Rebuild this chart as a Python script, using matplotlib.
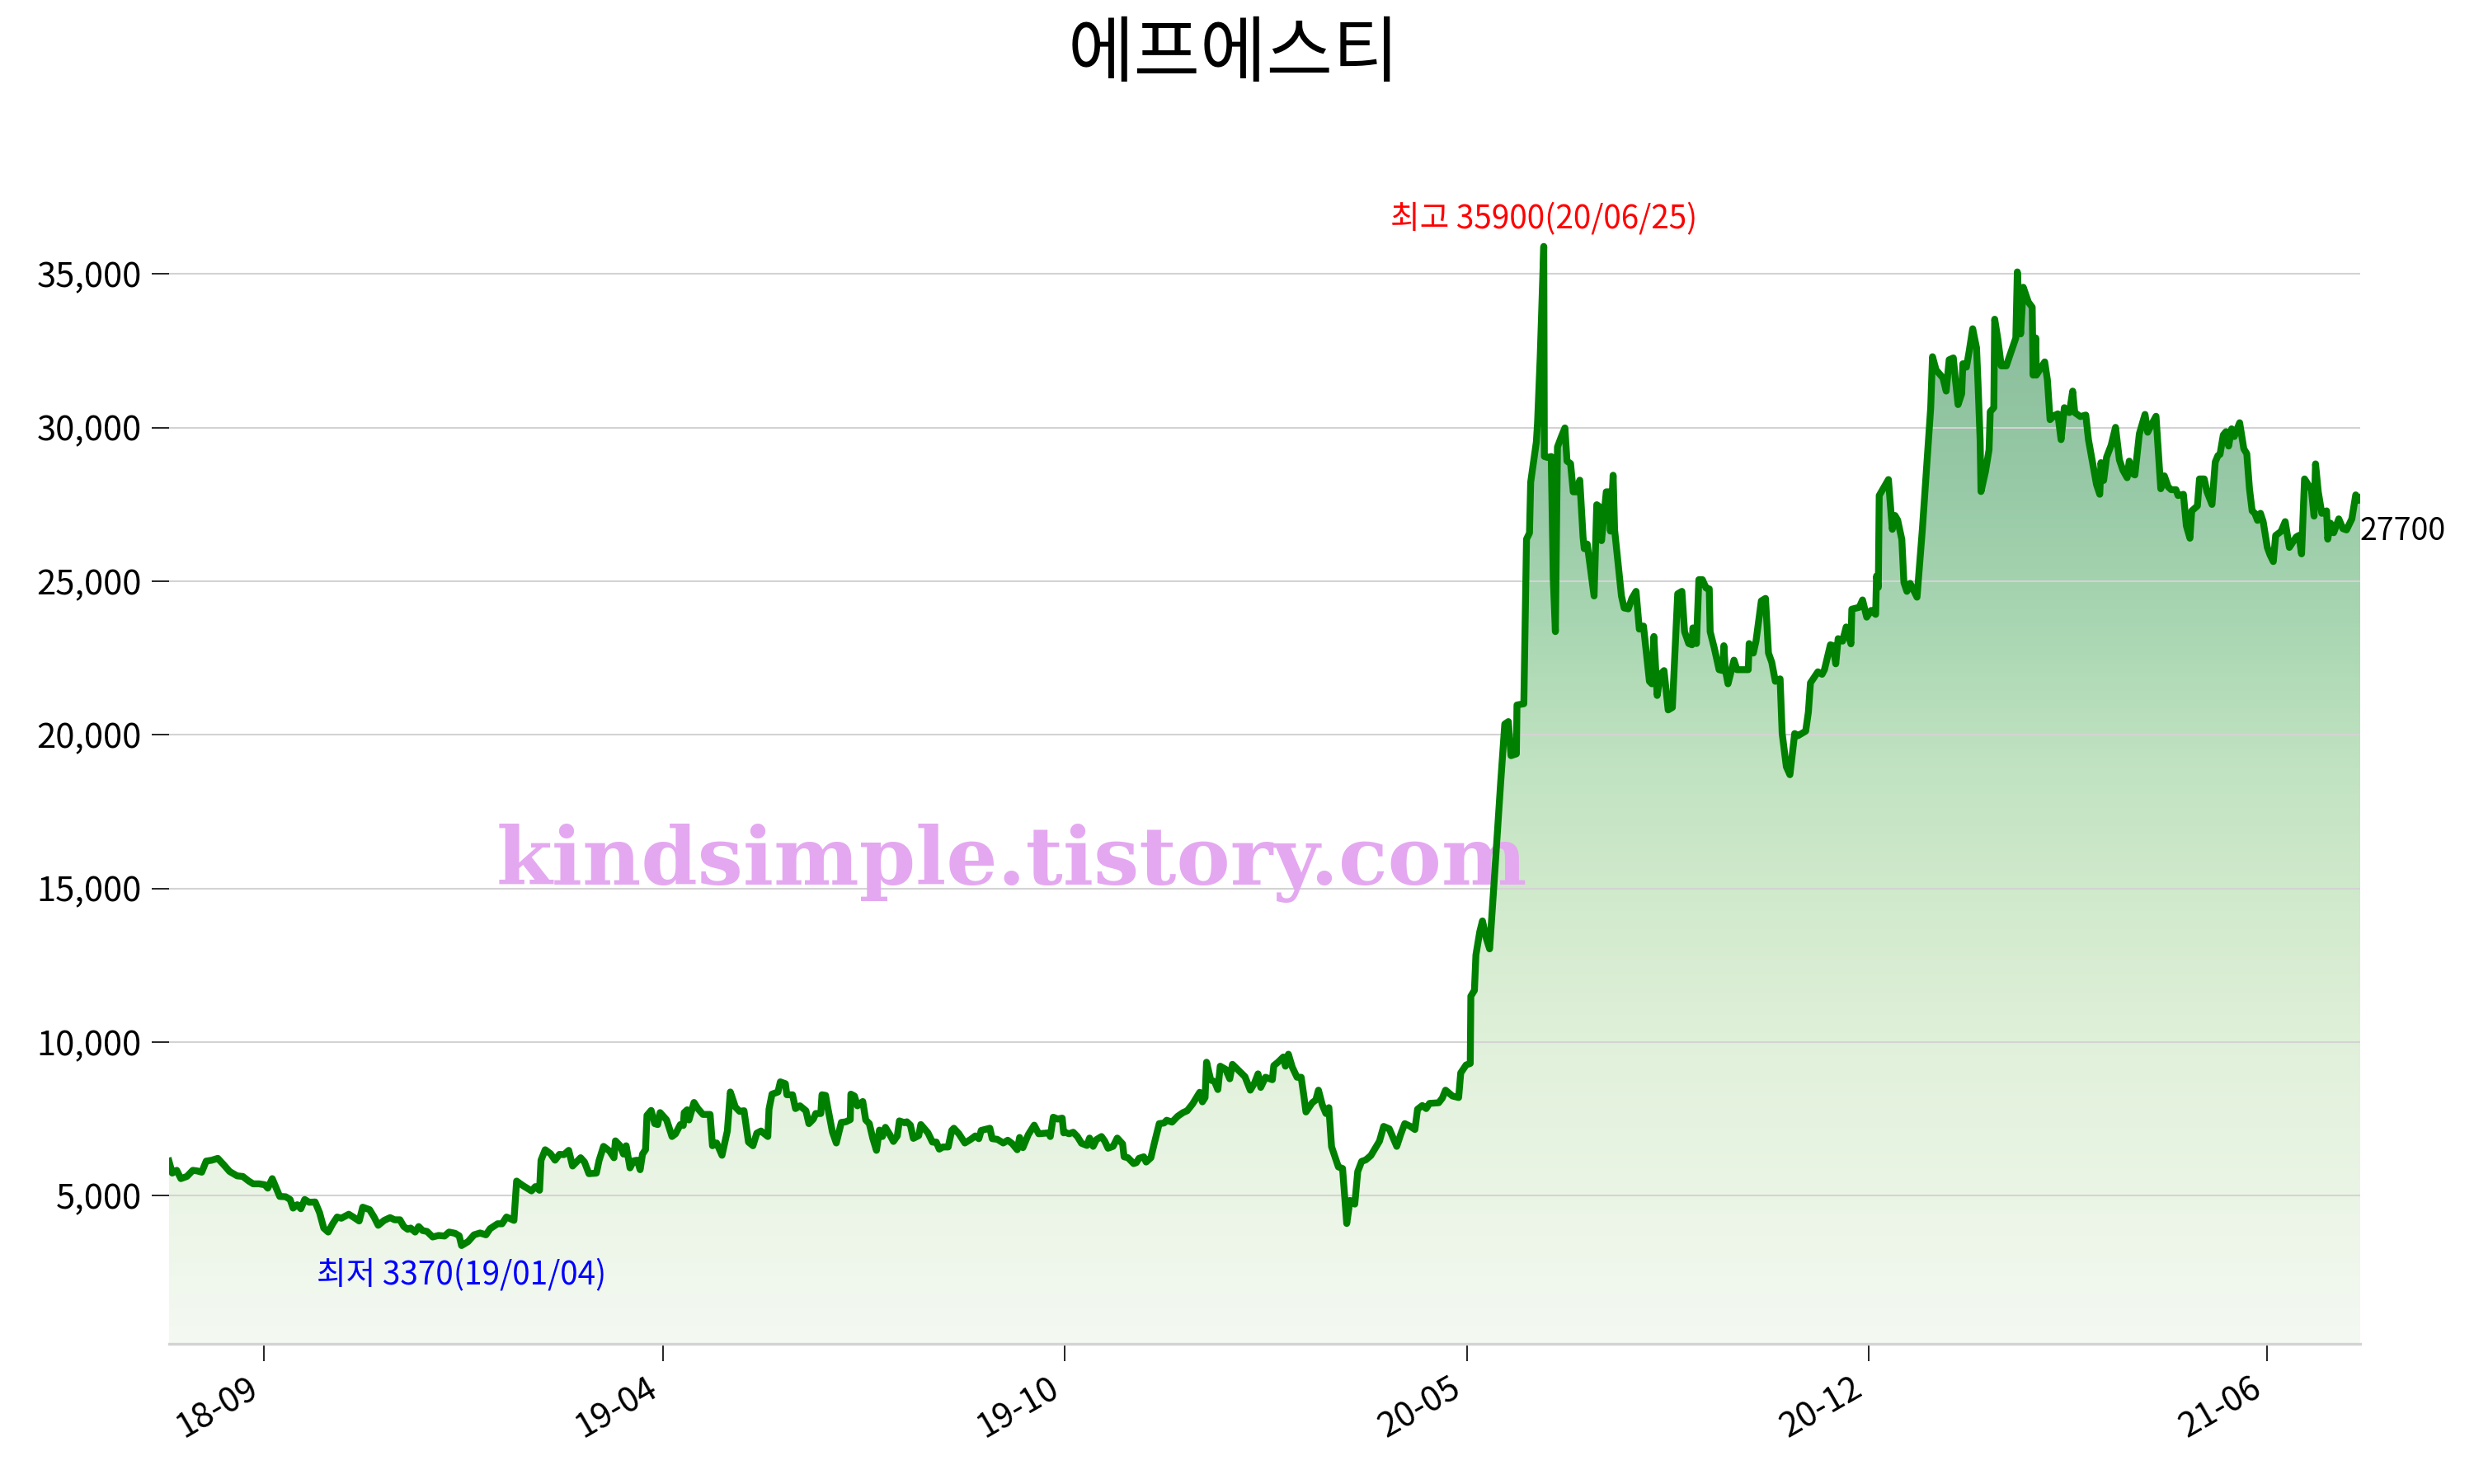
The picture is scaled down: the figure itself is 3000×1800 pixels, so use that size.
import numpy as np
import matplotlib
matplotlib.use('Agg')
import matplotlib.pyplot as plt
from matplotlib.colors import LinearSegmentedColormap
from matplotlib.ticker import FuncFormatter, MultipleLocator

plt.rcParams['font.family'] = ['Noto Sans CJK KR', 'DejaVu Sans']

title = '에프에스티'
watermark = 'kindsimple.tistory.com'
lowDate = '19/01/04'
highDate = '20/06/25'

# trading-day index (x) and closing price
day = [
    0, 1.1, 2.6, 4.0, 6.0, 8.0, 9.5, 11.0, 12.5, 14.4, 16.4, 18.4, 20.4, 22.9, 24.8, 26.8, 28.3, 30.3, 32.2, 33.2,
    34.7, 37.2, 39.2, 40.7, 41.7, 43.1, 44.3, 45.6, 47.1, 49.1, 50.6, 52.0, 53.5, 55.0, 56.5, 57.9, 60.4, 61.9, 63.9, 65.1,
    67.4, 68.9, 70.3, 72.3, 74.3, 75.8, 77.6, 78.9, 80.2, 81.2, 82.7, 83.9, 85.2, 86.7, 88.6, 90.6, 92.6, 94.1, 96.1, 97.5,
    98.3, 100.5, 102.5, 104.5, 106.5, 107.9, 110.4, 111.9, 113.4, 115.9, 116.8, 118.8, 121.8, 123.1, 124.5, 125.0, 126.4, 128.2, 129.7, 131.2,
    132.7, 134.3, 135.6, 138.3, 139.6, 141.1, 143.6, 144.5, 146.0, 148.0, 149.5, 150.0, 151.5,
    152.7, 153.6, 154.9, 156.1, 157.3, 158.3, 159.1, 160.1, 160.6, 162.0, 163.2, 164.2, 165.0, 167.2, 169.0, 170.2, 171.8, 172.8, 173.1, 174.1,
    174.7, 176.4, 177.7, 179.4, 181.8, 182.6, 184.0, 185.8, 187.6, 188.6, 190.3, 191.7, 193.2, 194.7, 196.2, 197.5, 198.9, 201.2, 201.6, 202.6,
    204.6, 205.4, 207.1, 207.6, 209.5, 210.5, 212.0, 214.0, 215.0, 216.5, 217.3, 219.0, 219.4, 220.6, 221.4, 222.9, 224.2, 225.9, 227.4, 228.9,
    229.1, 230.3, 231.3, 233.1, 234.1, 235.3, 236.5, 237.7, 238.7, 239.7, 240.7, 242.2, 243.4, 244.7, 245.4, 247.1, 247.9, 249.1, 250.1, 251.9,
    252.6, 253.6, 255.0, 256.5, 257.8, 258.8, 260.0, 261.8, 263.0, 263.7, 265.4, 267.4, 269.4, 270.9, 272.1, 272.9, 275.8, 276.6, 278.3, 280.3,
    281.8, 283.3, 285.0, 285.8, 286.9, 288.7, 290.7, 292.2, 295.6, 296.1, 297.1, 298.6, 300.1, 300.6,
    301.0, 302.4, 303.8, 305.2, 306.6, 308.4, 309.3, 310.5, 311.6, 313.3, 314.4, 315.5, 317.2, 318.6, 320.4, 320.9, 322.2, 324.1, 325.0, 325.9,
    327.5, 328.3, 329.9, 331.0, 332.7, 334.3, 335.2, 337.0, 338.9, 340.7, 342.1, 343.9, 346.3, 347.2, 348.1, 348.6, 350.0, 351.3, 352.4, 353.2,
    355.0, 356.4, 357.3, 359.2, 361.5, 363.3, 364.7, 365.9, 366.8, 368.4, 370.7, 371.2, 372.6, 374.4, 375.1, 376.1, 377.4, 379.0, 380.4, 381.3,
    382.0, 384.1, 385.3, 386.2, 387.5, 388.7, 389.7, 390.6, 392.9, 394.3, 395.7, 396.8, 398.4, 399.4, 400.7, 402.1, 403.8, 405.1, 406.7, 408.1,
    410.0, 412.5, 413.9, 415.2, 416.9, 418.6, 419.5, 421.1, 422.4, 423.5, 426.6, 427.8, 428.9, 431.2, 433.3, 434.0, 435.8, 437.2, 437.4, 438.6,
    439.1, 440.4, 441.3,
    442.6, 443.7, 445.1, 447.4, 448.8, 450.0, 450.9, 452.7, 452.9, 455.2, 456.1, 457.1, 457.5, 459.4, 459.8, 460.7, 461.9, 462.1, 463.1, 464.4,
    465.1, 465.8, 466.5, 467.7, 469.0, 469.7, 470.9, 471.8, 472.8, 474.0, 475.1, 475.5, 476.5, 478.8, 479.7, 480.4, 481.3, 482.9, 483.8, 484.3,
    485.2, 485.7, 488.0, 488.9, 490.3, 491.5, 492.9, 494.0, 495.4, 497.4, 498.2, 498.9, 500.0, 501.1, 502.3, 503.7, 505.1, 506.9, 508.3, 509.2,
    510.6, 511.7, 512.0, 513.2, 514.0, 515.2, 516.4, 517.5, 517.8, 519.2, 520.8, 522.0, 522.4, 522.9, 523.8, 525.8, 526.8, 530.6, 530.9, 532.3,
    533.2, 535.0, 536.4, 537.4, 538.5, 539.7, 541.3, 542.0, 543.4, 544.6, 546.2, 547.3, 549.9, 550.8, 551.5, 554.0, 555.4, 556.2, 558.2, 559.1,
    560.0, 560.8, 562.3, 563.5,
    565.1, 565.4, 567.9, 569.0, 570.4, 571.9, 573.4, 573.7, 574.3, 574.6, 577.7, 579.0, 579.9, 580.8, 582.2, 582.9, 583.9, 585.0, 587.3, 589.1,
    591.0, 591.9, 592.5, 593.7, 596.0, 597.1, 598.1, 599.5, 600.2, 601.1, 602.3, 602.7, 603.9, 604.8, 606.0, 607.3, 607.8, 608.5, 608.8, 610.3,
    611.5, 611.9, 613.1, 613.4, 614.5, 615.6, 617.3, 618.2, 620.5, 621.0, 622.1, 623.0, 624.7, 626.0, 626.3, 627.2, 627.4, 628.5, 630.2, 631.1,
    632.0, 633.4, 634.6, 635.7, 636.8, 638.5, 639.6, 640.3, 642.2, 644.0, 644.9,
    647.6, 648.7, 649.1, 650.0, 651.0, 652.5, 654.0, 655.3, 656.5, 657.9, 658.6, 659.7, 660.5, 662.0, 663.9, 664.8, 666.2, 667.6, 668.5, 669.2,
    670.4, 671.7, 672.7, 674.3, 675.0, 676.8, 677.8, 679.0, 679.6, 681.5, 682.2, 683.8, 684.7, 686.4, 687.5, 688.4, 689.1, 690.2, 691.1, 692.0,
    693.0, 693.9, 694.8, 695.7, 697.1, 698.1, 699.0, 699.9, 700.8, 701.7, 702.7, 703.6, 705.0, 705.9, 707.0, 707.8, 709.6, 711.0, 712.4, 714.7,
    715.6, 716.5, 717.5, 719.8, 720.7, 721.2, 722.1, 723.3, 724.9, 725.3, 726.2, 727.3, 729.0, 730.4, 731.6, 733.4, 734.7, 735.6, 736.2,
]
price = [
    6120, 5730, 5820, 5550, 5620, 5820, 5800, 5760, 6120, 6150, 6210, 6000, 5780, 5640, 5620, 5470, 5380, 5380, 5350, 5240,
    5550, 4970, 4960, 4870, 4590, 4700, 4570, 4870, 4780, 4790, 4440, 3940, 3810, 4080, 4300, 4260, 4390, 4300, 4170, 4620,
    4540, 4300, 4030, 4190, 4280, 4210, 4210, 3990, 3900, 3940, 3810, 3990, 3860, 3830, 3650, 3700, 3680, 3810, 3770, 3690,
    3370, 3500, 3720, 3780, 3720, 3920, 4080, 4080, 4300, 4190, 5470, 5330, 5150, 5290, 5170, 6150, 6490, 6360, 6150, 6340,
    6330, 6470, 5960, 6230, 6090, 5710, 5730, 6140, 6600, 6450, 6230, 6780, 6630,
    6350, 6620, 5900, 6130, 6150, 5840, 6350, 6490, 7610, 7770, 7340, 7310, 7700, 7460, 6920, 7010, 7310, 7280, 7700, 7790,
    7460, 8030, 7830, 7640, 7640, 6620, 6710, 6310, 7100, 8370, 7880, 7740, 7760, 6740, 6620, 7030, 7100, 6920, 7810, 8300,
    8370, 8700, 8640, 8280, 8280, 7830, 7920, 7760, 7340, 7490, 7670, 7670, 8280, 8260, 7830, 7070, 6710, 7380, 7400, 7470,
    8300, 8240, 7920, 8060, 7460, 7340, 6850, 6470, 7130, 6920, 7220, 6980, 6760, 6940, 7430, 7370, 7400, 7290, 6860, 6950,
    7310, 7200, 7040, 6740, 6740, 6510, 6580, 6580, 7120, 7190, 7010, 6710, 6830, 6940, 6850, 7120, 7190, 6850, 6830, 6710,
    6800, 6690, 6490, 6890, 6560, 6980, 7290, 7010, 7040, 6920, 7550, 7490, 7520, 7040,
    7060, 7010, 7060, 6920, 6700, 6630, 6870, 6600, 6820, 6920, 6770, 6540, 6600, 6870, 6680, 6260, 6230, 6040, 6070, 6210,
    6260, 6090, 6230, 6680, 7340, 7360, 7450, 7390, 7580, 7700, 7760, 7980, 8360, 8050, 8190, 9340, 8760, 8710, 8450, 9210,
    9110, 8800, 9270, 9090, 8870, 8430, 8660, 8960, 8520, 8850, 8770, 9230, 9340, 9510, 9210, 9600, 9180, 8850, 8850, 8240,
    7720, 8020, 8110, 8430, 7950, 7670, 7860, 6590, 5930, 5880, 4090, 4840, 4720, 5780, 6110, 6160, 6300, 6510, 6770, 7250,
    7170, 6600, 7010, 7340, 7260, 7150, 7810, 7930, 7830, 8000, 8020, 8170, 8430, 8240, 8190, 8990, 9250, 9300, 11490, 11680,
    12830, 13590, 13940,
    13370, 13030, 15030, 18420, 20350, 20430, 19320, 19380, 20970, 21010, 26370, 26570, 28220, 29530, 30140, 32300, 35900, 29060, 29030, 29060,
    25050, 23360, 29370, 29680, 29990, 28910, 28830, 27910, 27910, 28290, 26440, 26060, 26210, 24520, 27490, 27440, 26320, 27910, 27910, 26630,
    28450, 26670, 24520, 24130, 24100, 24440, 24670, 23440, 23540, 21740, 21660, 23200, 21280, 21970, 22090, 20810, 20890, 24590, 24670, 23360,
    22970, 22930, 23480, 22970, 25050, 25050, 24780, 24750, 23360, 22820, 22120, 22090, 22900, 22120, 21660, 22430, 22120, 22120, 22970, 22660,
    23050, 24360, 24440, 22660, 22360, 21740, 21820, 20040, 18960, 18700, 20040, 19970, 20120, 20740, 21690, 22050, 21970, 22120, 22930, 22900,
    22310, 23130, 23050, 23510,
    22960, 24090, 24150, 24390, 23830, 24050, 23920, 25170, 24800, 27790, 28310, 26690, 27140, 26990, 26360, 24960, 24670, 24930, 24480, 26690,
    29350, 30650, 32310, 31880, 31620, 31190, 32210, 32270, 31560, 30750, 31100, 32080, 31970, 32470, 33220, 32600, 31430, 29610, 27920, 28570,
    29280, 30520, 30650, 33530, 32860, 32010, 32010, 32270, 32920, 35070, 33050, 34570, 34090, 33920, 31710, 32920, 31710, 31880, 32140, 31560,
    30260, 30390, 30450, 29610, 30650, 30490, 31190, 30490, 30360, 30410, 29610,
    28150, 27830, 28860, 28280, 29040, 29420, 30010, 28950, 28610, 28370, 28910, 28500, 28460, 29800, 30430, 29850, 30120, 30370, 29040, 28010,
    28430, 28070, 27980, 27980, 27790, 27830, 26800, 26400, 27290, 27450, 28330, 28330, 27920, 27500, 28880, 29090, 29130, 29760, 29870, 29400,
    29960, 29710, 29940, 30160, 29310, 29150, 28010, 27290, 27210, 26980, 27210, 26940, 26100, 25860, 25640, 26490, 26620, 26940, 26100, 26440,
    26490, 25890, 28330, 27980, 27120, 28820, 27920, 27210, 27290, 26370, 26890, 26580, 27030, 26710, 26670, 27030, 27810, 27630, 27700,
]

tickDays = [32, 166, 301, 436, 571, 705]
tickLabels = ['18-09', '19-04', '19-10', '20-05', '20-12', '21-06']

gradColors = ['#F4F9F2', '#EBF5E6', '#E1F1DB', '#D2EACD', '#C1E3C1', '#A9D6B2', '#97C9A6', '#8CBF9D', '#88BB99']

day = np.array(day)
price = np.array(price)
yBottom = price.min() * 0.05
yTop = price.max() * 1.05

fig = plt.figure(figsize=(10, 6), dpi=300)
ax = fig.add_axes([0.0683, 0.0944, 0.8857, 0.7767])

# gradient under the line, clipped to the filled area
area = ax.fill_between(day, price, yBottom, color='none', lw=0)
cmap = LinearSegmentedColormap.from_list('fade', gradColors)
grad = np.linspace(0, 1, 256).reshape(-1, 1)
img = ax.imshow(grad, extent=[day[0], day[-1], yBottom, yTop], origin='lower',
                aspect='auto', cmap=cmap, zorder=0)
img.set_clip_path(area.get_paths()[0], ax.transData)

ax.plot(day, price, color='green', lw=2.0, zorder=3)

iMin = price.argmin()
iMax = price.argmax()
ax.annotate(f'최저 {price[iMin]}({lowDate})', xy=(day[iMin], price[iMin]), xytext=(0, -4),
            textcoords='offset points', ha='center', va='top', color='blue', fontsize=9.3)
ax.annotate(f'최고 {price[iMax]}({highDate})', xy=(day[iMax], price[iMax]), xytext=(0, 3),
            textcoords='offset points', ha='center', va='bottom', color='red', fontsize=9.3)
ax.annotate(f'{price[-1]}', xy=(day[-1], price[-1]), xytext=(0, -5),
            textcoords='offset points', ha='left', va='top', fontsize=9)

ax.text(0.409, 0.404, watermark, transform=fig.transFigure, family='DejaVu Serif', weight='bold',
        fontsize=23.5, color='#E4A8F0', ha='center', va='baseline', zorder=2)

ax.set_xlim(day[0], day[-1])
ax.set_ylim(yBottom, yTop)
ax.yaxis.set_major_locator(MultipleLocator(5000))
ax.yaxis.set_major_formatter(FuncFormatter(lambda v, p: f'{int(v):,}'))
ax.set_xticks(tickDays)
ax.set_xticklabels(tickLabels, rotation=30, ha='right')
ax.tick_params(axis='both', labelsize=10, length=5, width=0.4, pad=3)
ax.yaxis.grid(True, color='lightgray', lw=0.5)

for side in ['top', 'right', 'left']:
    ax.spines[side].set_visible(False)
ax.spines['bottom'].set_color('lightgray')
ax.spines['bottom'].set_linewidth(0.8)

fig.text(0.4987, 0.963, title, ha='center', va='center', fontsize=21)

plt.savefig('out.png', dpi=300)
